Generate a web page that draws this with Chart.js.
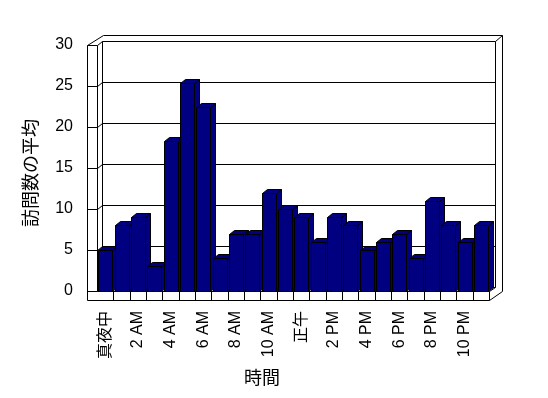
<!DOCTYPE html>
<html>
<head>
<meta charset="utf-8">
<script src="https://cdn.jsdelivr.net/npm/chart.js@4.4.0/dist/chart.umd.min.js"></script>
<style>
  body { margin: 0; background: #fff; }
</style>
</head>
<body>
<canvas id="barChart" width="548" height="398"></canvas>
<script>
// hour labels, only every other one is shown
const hourLabels = ['真夜中', '', '2 AM', '', '4 AM', '', '6 AM', '', '8 AM', '', '10 AM', '',
                    '正午', '', '2 PM', '', '4 PM', '', '6 PM', '', '8 PM', '', '10 PM', ''];
const avgVisits = [5, 8, 9, 3, 18.3, 25.4, 22.4, 4, 7, 7, 12, 10,
                   9, 6, 9, 8, 5, 6, 7, 4, 11, 8, 6, 8];
const yMin = 0;
const yMax = 30;
const yStep = 5;
const xTitle = '時間';
const yTitle = '訪問数の平均';

const FONT = '"Liberation Sans", "Noto Sans CJK JP", sans-serif';
const CJK = '"Noto Sans CJK JP", sans-serif';
const dx = 5, dy = -4; // depth of bars

function px(v) { return Math.round(v) + 0.5; }

function path(ctx, pts) {
    ctx.beginPath();
    ctx.moveTo(px(pts[0][0]), px(pts[0][1]));
    for (let i = 1; i < pts.length; i++) ctx.lineTo(px(pts[i][0]), px(pts[i][1]));
}

const box3d = {
    id: 'box3d',
    beforeDatasetsDraw(chart) {
        const ctx = chart.ctx;
        const { left: L, right: R } = chart.chartArea;
        const y = chart.scales.y;
        const T = y.getPixelForValue(yMax);
        const B = y.getPixelForValue(yMin);
        ctx.save();
        ctx.strokeStyle = '#000';
        ctx.lineWidth = 1;

        // back wall grid lines + left wall ticks
        for (let v = yMin; v <= yMax; v += yStep) {
            const py = y.getPixelForValue(v);
            path(ctx, [[L - 10, py], [L, py], [L + dx, py + dy], [R + dx + 1, py + dy]]);
            ctx.stroke();
        }
        // left wall
        path(ctx, [[L - 10, B + 9], [L - 10, T], [L + dx + 1, T - 10], [R + 13, T - 10], [R + 13, B]]);
        ctx.stroke();
        path(ctx, [[L, T], [L, B]]); ctx.stroke();
        path(ctx, [[L + dx, T + dy], [L + dx, B + dy]]); ctx.stroke();
        path(ctx, [[R + dx + 1, T + dy], [R + dx + 1, B + dy]]); ctx.stroke();
        path(ctx, [[R + dx + 1, T + dy], [R + 13, T - 10]]); ctx.stroke();

        // floor
        path(ctx, [[L - 10, B + 9], [R, B + 9], [R + 13, B]]); ctx.stroke();
        path(ctx, [[L, B], [R, B], [R + dx + 1, B + dy]]); ctx.stroke();
        path(ctx, [[R, B], [R, B + 9]]); ctx.stroke();
        const w = (R - L) / hourLabels.length;
        for (let i = 1; i < hourLabels.length; i++) {
            path(ctx, [[L + i * w, B], [L + i * w, B + 9]]);
            ctx.stroke();
        }
        ctx.restore();
    },
    beforeDatasetDraw(chart, args) {
        const ctx = chart.ctx;
        ctx.save();
        ctx.fillStyle = '#000080';
        ctx.strokeStyle = '#000';
        ctx.lineWidth = 1;
        args.meta.data.forEach(bar => {
            const { x, y, base, width } = bar.getProps(['x', 'y', 'base', 'width']);
            const x0 = Math.round(x - width / 2), x1 = Math.round(x + width / 2);
            const top = Math.round(y), bot = Math.round(base);
            // side
            path(ctx, [[x1, top], [x1 + dx, top + dy], [x1 + dx, bot + dy], [x1, bot]]);
            ctx.closePath(); ctx.fill(); ctx.stroke();
            // top
            path(ctx, [[x0, top], [x0 + dx, top + dy], [x1 + dx, top + dy], [x1, top]]);
            ctx.closePath(); ctx.fill(); ctx.stroke();
            // front
            path(ctx, [[x0, top], [x1, top], [x1, bot], [x0, bot]]);
            ctx.closePath(); ctx.fill(); ctx.stroke();
        });
        ctx.restore();
        return false;
    },
    afterDraw(chart) {
        const ctx = chart.ctx;
        ctx.save();
        ctx.fillStyle = '#000';
        ctx.font = '18px ' + CJK;
        ctx.textAlign = 'center';
        ctx.textBaseline = 'middle';
        ctx.fillText(xTitle, 262, 377);
        ctx.translate(30, 173);
        ctx.rotate(-Math.PI / 2);
        ctx.fillText(yTitle, 0, 0);
        ctx.restore();
    }
};

new Chart(document.getElementById('barChart'), {
    type: 'bar',
    data: {
        labels: hourLabels,
        datasets: [{
            label: yTitle,
            data: avgVisits,
            backgroundColor: '#000080',
            borderColor: '#000',
            borderWidth: 1,
            barThickness: 14
        }]
    },
    options: {
        responsive: false,
        animation: false,
        layout: { padding: { top: 45, right: 59, left: 0, bottom: 0 } },
        plugins: {
            legend: { display: false },
            tooltip: { enabled: false }
        },
        scales: {
            x: {
                grid: { display: false, drawTicks: false },
                border: { display: false },
                ticks: {
                    autoSkip: false,
                    minRotation: 90,
                    maxRotation: 90,
                    padding: 20,
                    color: '#000',
                    font: { family: FONT, size: 16 }
                },
                afterFit: s => { s.height = 107; }
            },
            y: {
                min: yMin,
                max: yMax,
                grid: { display: false, drawTicks: false },
                border: { display: false },
                ticks: {
                    stepSize: yStep,
                    padding: 24,
                    color: '#000',
                    font: { family: FONT, size: 16 }
                },
                afterFit: s => { s.width = 97; }
            }
        }
    },
    plugins: [box3d]
});
</script>
</body>
</html>
